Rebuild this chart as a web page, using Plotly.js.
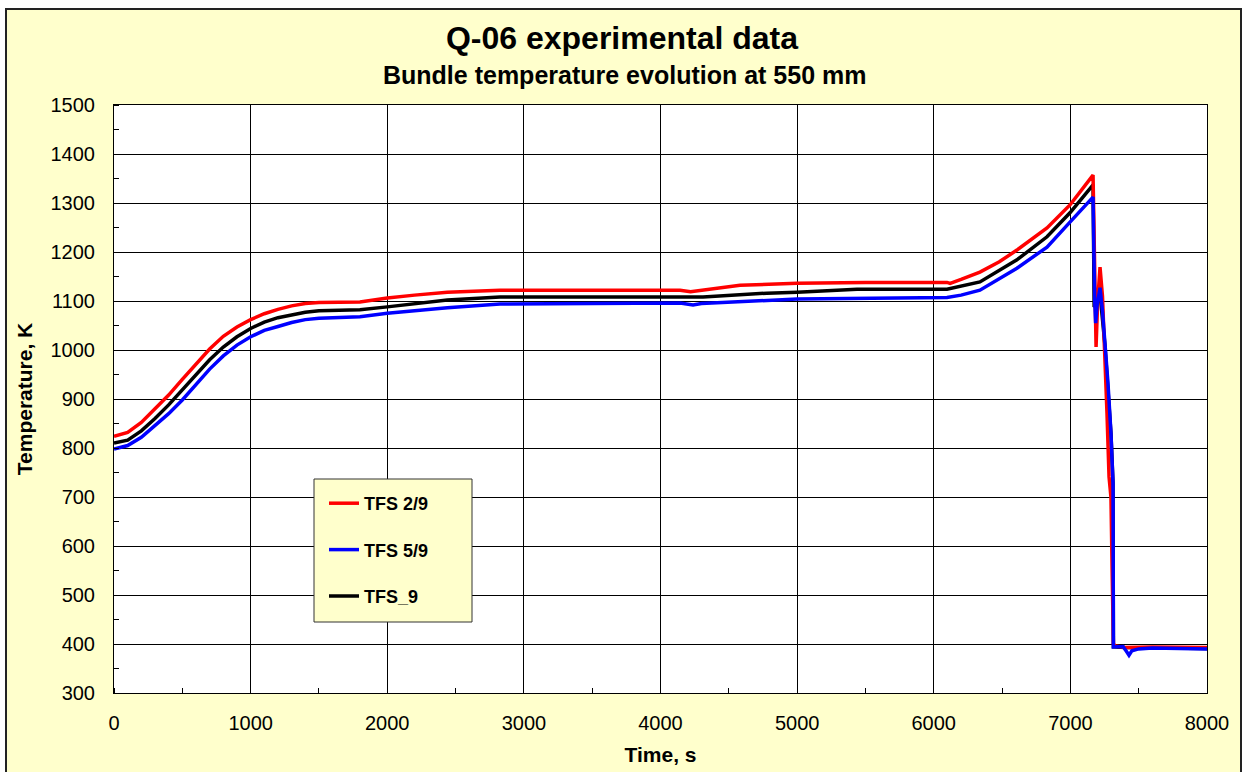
<!DOCTYPE html>
<html>
<head>
<meta charset="utf-8">
<script src="https://cdn.plot.ly/plotly-3.0.1.min.js"></script>
<style>
  html, body { margin: 0; padding: 0; background: #ffffff; }
  #chart { width: 1244px; height: 772px; }
</style>
</head>
<body>
<div id="chart"></div>
<script>
// ---- Data ----
const timeRed = [0, 100, 200, 300, 400, 500, 600, 700, 800, 900, 1000, 1100, 1200, 1300, 1400, 1500, 1800, 2000, 2200, 2440, 2825, 3500, 4143, 4220, 4300, 4582, 5000, 5500, 6097, 6120, 6200, 6338, 6480, 6609, 6829, 6997, 7166, 7175, 7188, 7200, 7217, 7235, 7253, 7268, 7283, 7297, 7305, 7315, 7330, 7400, 7600, 8000];
const tempRed = [824, 832, 852, 880, 908, 940, 972, 1002, 1028, 1047, 1062, 1074, 1083, 1090, 1095, 1097, 1098, 1106, 1112, 1118, 1122, 1122, 1122, 1119, 1122, 1132, 1136, 1138, 1138, 1136, 1144, 1159, 1180, 1204, 1249, 1296, 1357, 1200, 1006, 1100, 1169, 1110, 1000, 871, 741, 700, 560, 400, 396, 393, 394, 393];

const timeBlue = [0, 100, 200, 300, 400, 500, 600, 700, 800, 900, 1000, 1100, 1200, 1300, 1400, 1500, 1800, 2000, 2440, 2825, 3500, 4143, 4238, 4300, 5000, 5500, 6097, 6200, 6338, 6609, 6829, 6997, 7166, 7178, 7185, 7195, 7217, 7235, 7253, 7275, 7297, 7312, 7315, 7385, 7410, 7429, 7450, 7500, 7600, 8000];
const tempBlue = [798, 805, 822, 845, 870, 898, 930, 961, 988, 1010, 1027, 1040, 1048, 1056, 1062, 1065, 1068, 1075, 1086, 1094, 1095, 1096, 1092, 1095, 1104, 1106, 1107, 1112, 1122, 1167, 1210, 1261, 1312, 1100, 1055, 1090, 1127, 1080, 1020, 933, 831, 729, 394, 395, 385, 377, 386, 390, 392, 390];

const timeBlack = [0, 100, 200, 300, 400, 500, 600, 700, 800, 900, 1000, 1100, 1200, 1300, 1400, 1500, 1800, 2000, 2440, 2825, 4311, 4779, 5000, 5438, 6097, 6338, 6609, 6829, 6997, 7166, 7174, 7195, 7217, 7253, 7275, 7297, 7312, 7315, 7400, 8000];
const tempBlack = [810, 816, 835, 860, 888, 918, 950, 980, 1006, 1027, 1044, 1057, 1066, 1072, 1077, 1080, 1082, 1088, 1102, 1108, 1108, 1116, 1118, 1124, 1124, 1139, 1184, 1231, 1280, 1337, 1088, 1095, 1115, 1010, 930, 830, 729, 394, 393, 391];

const seriesNames = ['TFS 2/9', 'TFS 5/9', 'TFS_9'];
const xTickVals = [0, 1000, 2000, 3000, 4000, 5000, 6000, 7000, 8000];
const yTickVals = [300, 400, 500, 600, 700, 800, 900, 1000, 1100, 1200, 1300, 1400, 1500];

// ---- Layout geometry (pixels) ----
const W = 1244, H = 772;
const M = {l: 114, r: 37, t: 105, b: 79};
const pw = W - M.l - M.r, ph = H - M.t - M.b;
const px = v => (v - M.l) / pw;
const py = v => (H - M.b - v) / ph;

const FONT = '"Liberation Sans", Arial, sans-serif';

const traces = [
  {x: timeBlack, y: tempBlack, name: '<b>' + seriesNames[2] + '</b>', mode: 'lines', line: {color: '#000000', width: 3.5}, legendrank: 3, legendgroup: 'c'},
  {x: timeRed, y: tempRed, name: '<b>' + seriesNames[0] + '</b>', mode: 'lines', line: {color: '#ff0000', width: 3.5}, legendrank: 1, legendgroup: 'a'},
  {x: timeBlue, y: tempBlue, name: '<b>' + seriesNames[1] + '</b>', mode: 'lines', line: {color: '#0000ff', width: 3.5}, legendrank: 2, legendgroup: 'b'}
];

const layout = {
  width: W, height: H,
  margin: M,
  paper_bgcolor: '#ffffff',
  plot_bgcolor: '#ffffff',
  font: {family: FONT, color: '#000000'},
  title: {
    text: '<b>Q-06 experimental data</b>',
    font: {family: FONT, size: 32, color: '#000000'},
    x: 0.5, xref: 'container', xanchor: 'center',
    y: 1 - 38 / H, yref: 'container', yanchor: 'middle'
  },
  annotations: [{
    text: '<b>Bundle temperature evolution at 550 mm</b>',
    xref: 'paper', yref: 'paper', x: px(624), y: py(75),
    xanchor: 'center', yanchor: 'middle', showarrow: false,
    font: {family: FONT, size: 25, color: '#000000'}
  }],
  xaxis: {
    range: [0, 8000], tickvals: xTickVals, ticktext: xTickVals.map(String),
    showgrid: true, gridcolor: '#000000', gridwidth: 1,
    showline: true, linecolor: '#000000', linewidth: 1, mirror: true,
    ticks: '', zeroline: false,
    minor: {dtick: 500, ticks: 'inside', ticklen: 5, tickcolor: '#000000', showgrid: false},
    tickfont: {family: FONT, size: 20, color: '#000000'},
    ticklabelstandoff: 12,
    title: {text: '<b>Time, s</b>', font: {family: FONT, size: 21, color: '#000000'}, standoff: 14}
  },
  yaxis: {
    range: [300, 1500], tickvals: yTickVals, ticktext: yTickVals.map(String),
    showgrid: true, gridcolor: '#000000', gridwidth: 1,
    showline: true, linecolor: '#000000', linewidth: 1, mirror: true,
    ticks: '', zeroline: false,
    minor: {dtick: 50, ticks: 'inside', ticklen: 5, tickcolor: '#000000', showgrid: false},
    tickfont: {family: FONT, size: 20, color: '#000000'},
    ticklabelstandoff: 14,
    title: {text: '<b>Temperature, K</b>', font: {family: FONT, size: 21, color: '#000000'}, standoff: 12}
  },
  legend: {
    x: px(314), y: py(485), xanchor: 'left', yanchor: 'top',
    bgcolor: 'rgba(0,0,0,0)', borderwidth: 0,
    font: {family: FONT, size: 18, color: '#000000'},
    tracegroupgap: 20, itemwidth: 30, indentation: 10,
    traceorder: 'grouped'
  },
  showlegend: true,
  shapes: [
    {type: 'rect', xref: 'paper', yref: 'paper', layer: 'below',
     x0: px(6), x1: px(1241), y0: py(790), y1: py(9),
     fillcolor: '#FFFFCC', line: {color: '#222222', width: 2}},
    {type: 'rect', xref: 'paper', yref: 'paper', layer: 'below',
     x0: 0, x1: 1, y0: 0, y1: 1,
     fillcolor: '#ffffff', line: {width: 0}},
    {type: 'rect', xref: 'paper', yref: 'paper', layer: 'above',
     x0: px(314), x1: px(472), y0: py(622), y1: py(479),
     fillcolor: '#FFFFCC', line: {color: '#333333', width: 1}}
  ]
};

Plotly.newPlot('chart', traces, layout, {displayModeBar: false, staticPlot: true});
</script>
</body>
</html>
